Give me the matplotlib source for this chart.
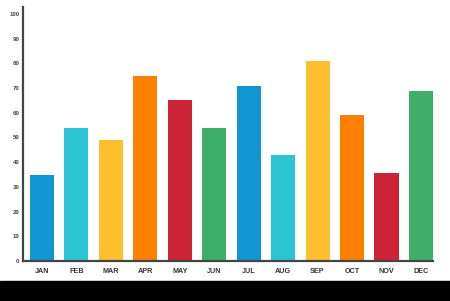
import matplotlib
matplotlib.use("Agg")
from matplotlib import pyplot as plt
from matplotlib.patches import Rectangle

months = ['JAN', 'FEB', 'MAR', 'APR', 'MAY', 'JUN',
          'JUL', 'AUG', 'SEP', 'OCT', 'NOV', 'DEC']
values = [35, 54, 49, 75, 65, 54, 71, 43, 81, 59, 35.5, 69]
colors = ['#1296d1', '#2cc4d4', '#fdbf2e', '#ff7f00', '#cc2336', '#40ae6b',
          '#1296d1', '#2cc4d4', '#fdbf2e', '#ff7f00', '#cc2336', '#40ae6b']
yticks = list(range(0, 101, 10))

plt.rcParams['font.family'] = ['Liberation Sans', 'DejaVu Sans']

fig = plt.figure(figsize=(4.5, 3.01), dpi=100)
ax = fig.add_axes([23/450, 40/301, 410/450, 253.5/301])

x = range(len(months))
ax.bar(x, values, width=0.7, color=colors, zorder=2)

ax.set_xlim(-0.55, 11.35)
ax.set_ylim(0, 102.6)
ax.set_xticks(list(x))
ax.set_xticklabels(months, fontsize=5.2, fontweight='bold', color='#333333')
ax.set_yticks(yticks)
ax.set_yticklabels([str(t) for t in yticks], fontsize=4.4, fontweight='bold', color='#444444')
ax.tick_params(axis='x', length=0, pad=5)
ax.tick_params(axis='y', length=0, pad=2.5)

for side in ['top', 'right']:
    ax.spines[side].set_visible(False)
for side in ['left', 'bottom']:
    ax.spines[side].set_color('#444444')
    ax.spines[side].set_linewidth(1.6)
    ax.spines[side].set_zorder(3)

# dark strip along the bottom edge
fig.patches.append(Rectangle((0, 0), 1, 20/301, transform=fig.transFigure,
                             color='black', zorder=5))

fig.savefig('out.png', dpi=100)
